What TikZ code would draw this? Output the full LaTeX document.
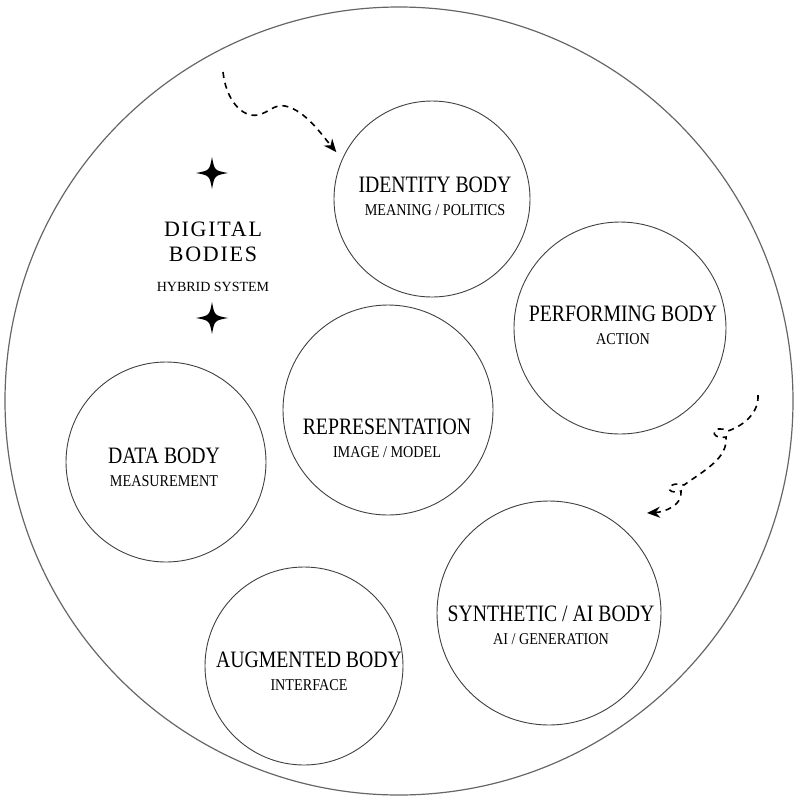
\documentclass[tikz,border=0pt]{standalone}
\usepackage{fontspec}
\setmainfont{Liberation Serif}
\newfontfamily\ttlfont[FakeStretch=0.84]{Liberation Serif}
\newfontfamily\subtfont[FakeStretch=0.86]{Liberation Serif}
\newfontfamily\spacedfont[LetterSpace=8]{Liberation Serif}
\newcommand{\ttl}{\ttlfont\fontsize{23.5}{23}\selectfont}
\newcommand{\subt}{\subtfont\fontsize{16.5}{23}\selectfont}
\usetikzlibrary{positioning,arrows.meta}

\tikzset{
  body/.style={circle, draw=black!75, line width=0.9pt, inner sep=0pt},
  lbl/.style={align=center, inner sep=0pt, anchor=base, font=\fontsize{23}{23}\selectfont},
  flow/.style={line width=1.6pt, dash pattern=on 6pt off 5pt, -{Stealth[length=13pt,width=11pt]}}
}

\begin{document}
\begin{tikzpicture}[x=1pt,y=-1pt]
\useasboundingbox (0,0) rectangle (800,807);
\draw[black!60, line width=1.2pt] (399,401) circle (394);
\node (idb) [body, minimum size=196pt] at (432,199) {};
\node (perf) [body, minimum size=212pt] at (620,328) {};
\node (repr) [body, minimum size=210pt] at (388,410) {};
\node (data) [body, minimum size=200pt] at (166,462) {};
\node (syn) [body, minimum size=224pt] at (549,613) {};
\node (aug) [body, minimum size=198pt] at (304,666) {};
\node (idbt) [lbl] at (435,215) {{\ttl IDENTITY BODY}\\{\subt MEANING / POLITICS}};
\node (perft) [lbl] at (623,344) {{\ttl PERFORMING BODY}\\{\subt ACTION}};
\node (reprt) [lbl] at (387,457) {{\ttl REPRESENTATION}\\{\subt IMAGE / MODEL}};
\node (datat) [lbl] at (164,486) {{\ttl DATA BODY}\\{\subt MEASUREMENT}};
\node (synt) [lbl] at (551,644) {{\ttl SYNTHETIC / AI BODY}\\{\subt AI / GENERATION}};
\node (augt) [lbl] at (309,690) {{\ttl AUGMENTED BODY}\\{\subt INTERFACE}};
\node (title) [lbl, font=\fontsize{22}{25}\selectfont] at (213,291)
  {{\spacedfont DIGITAL}\\{\spacedfont BODIES}\\[5pt]{\fontsize{14}{14}\selectfont HYBRID SYSTEM}};
% stars
\fill[shift={(212,173)}] (0,-16) .. controls (2.5,-2.5) .. (16,0) .. controls (2.5,2.5) .. (0,16)
  .. controls (-2.5,2.5) .. (-16,0) .. controls (-2.5,-2.5) .. cycle;
\fill[shift={(212,318)}] (0,-16) .. controls (2.5,-2.5) .. (16,0) .. controls (2.5,2.5) .. (0,16)
  .. controls (-2.5,2.5) .. (-16,0) .. controls (-2.5,-2.5) .. cycle;
% dashed arrows
\coordinate (s1) at (223,72);
\coordinate (s2) at (758,395);
\coordinate (e2) at (647,513);
\draw[flow, shorten >=9pt] (s1) .. controls (226,100) and (242,118) .. (258,115)
  .. controls (270,112) and (274,104) .. (285,106)
  .. controls (305,110) and (322,135) .. (idb.156);
\draw[flow] (s2) .. controls (759,412) and (745,425) .. (728,431)
  .. controls (712,423) and (708,440) .. (726,437)
  .. controls (728,458) and (705,470) .. (684,485)
  .. controls (666,480) and (664,496) .. (681,491)
  .. controls (683,505) and (665,512) .. (e2);
\end{tikzpicture}
\end{document}
